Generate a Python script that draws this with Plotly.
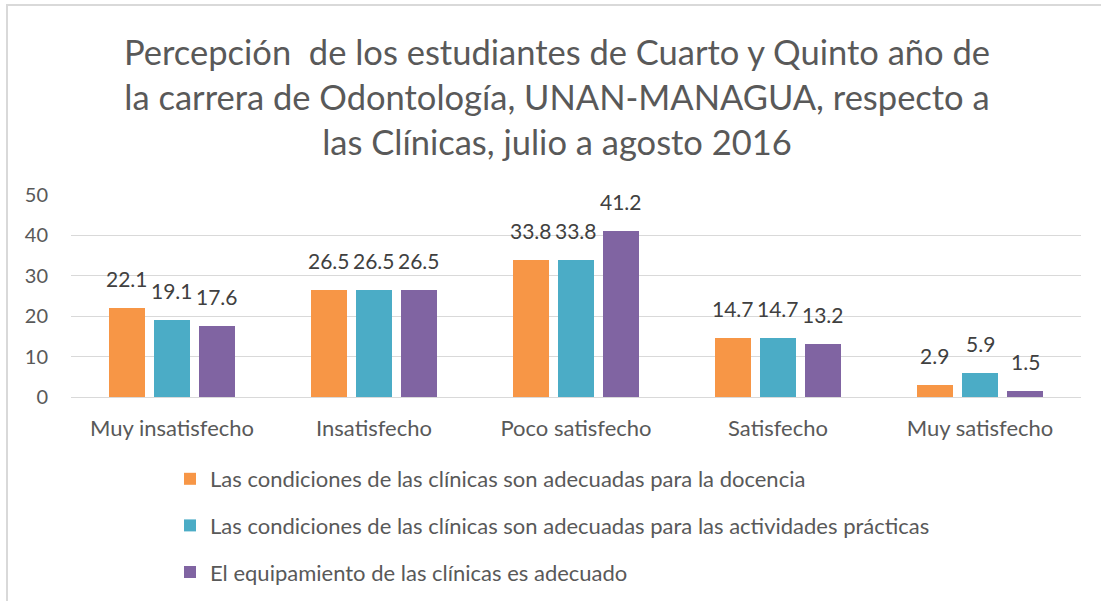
import plotly.graph_objects as go

categories = ["Muy insatisfecho", "Insatisfecho", "Poco satisfecho", "Satisfecho", "Muy satisfecho"]
series_names = [
    "Las condiciones de las clínicas son adecuadas para la docencia",
    "Las condiciones de las clínicas son adecuadas para las actividades prácticas",
    "El equipamiento de las clínicas es adecuado",
]
docencia = [22.1, 26.5, 33.8, 14.7, 2.9]
practicas = [19.1, 26.5, 33.8, 14.7, 5.9]
equipamiento = [17.6, 26.5, 41.2, 13.2, 1.5]
y_ticks = [0, 10, 20, 30, 40, 50]

title_text = ("Percepción  de los estudiantes de Cuarto y Quinto año de<br>"
              "la carrera de Odontología, UNAN-MANAGUA, respecto a<br>"
              "las Clínicas, julio a agosto 2016")

colors = ["#F79646", "#4BACC6", "#8064A2"]
offsets = [-0.2228, 0.0, 0.2228]
bar_width = 0.178
FONT = "Lato"

fig = go.Figure()
annotations = []
for name, vals, col, dx in zip(series_names, [docencia, practicas, equipamiento], colors, offsets):
    xs = [i + dx for i in range(len(categories))]
    fig.add_trace(go.Bar(
        x=xs, y=vals, name=name, width=bar_width,
        marker=dict(color=col, line=dict(width=0)),
        legendgroup=name,
    ))
    for x, v in zip(xs, vals):
        annotations.append(dict(
            x=x, y=v, xref="x", yref="y", text=f"{v:.1f}", showarrow=False,
            yanchor="bottom", yshift=15,
            font=dict(family=FONT, size=21, color="#404040"),
        ))

W, H = 1101, 601
L, R, T, B = 71, 20, 195, 204
pw, ph = W - L - R, H - T - B

fig.update_layout(
    width=W, height=H,
    margin=dict(l=L, r=R, t=T, b=B, autoexpand=False),
    paper_bgcolor="white", plot_bgcolor="white",
    font=dict(family=FONT, color="#595959"),
    barmode="overlay",
    title=dict(text=title_text, x=557 / W, xanchor="center", xref="container",
               y=1 - 65 / H, yanchor="top", yref="container",
               font=dict(family=FONT, size=34.5, color="#595959")),
    xaxis=dict(
        range=[-0.5, len(categories) - 0.5],
        tickvals=list(range(len(categories))), ticktext=categories,
        showgrid=False, zeroline=False, showline=False, ticks="",
        tickfont=dict(family=FONT, size=22, color="#595959"),
        ticklabelstandoff=16,
    ),
    yaxis=dict(
        range=[0, 50], tickvals=y_ticks,
        showgrid=True, gridcolor="#d9d9d9", gridwidth=1,
        zeroline=True, zerolinecolor="#d9d9d9", zerolinewidth=1,
        showline=False, ticks="",
        tickfont=dict(family=FONT, size=20, color="#595959"),
        ticklabelstandoff=22,
    ),
    legend=dict(
        orientation="v", x=(170 - L) / pw, xanchor="left",
        y=-(458 - (T + ph)) / ph, yanchor="top",
        font=dict(family=FONT, size=22, color="#595959"),
        traceorder="grouped", tracegroupgap=15,
        bgcolor="rgba(0,0,0,0)",
    ),
    annotations=annotations,
    shapes=[dict(
        type="rect", xref="paper", yref="paper",
        x0=(7 - L) / pw, x1=(1115 - L) / pw,
        y0=-(620 - (T + ph)) / ph, y1=1 + (T - 5) / ph,
        line=dict(color="#d9d9d9", width=2), fillcolor="rgba(0,0,0,0)",
        layer="below",
    )],
    bargap=0,
)

fig.write_html("out.html", config={"displayModeBar": False},
               post_script="document.body.style.margin='0';")
